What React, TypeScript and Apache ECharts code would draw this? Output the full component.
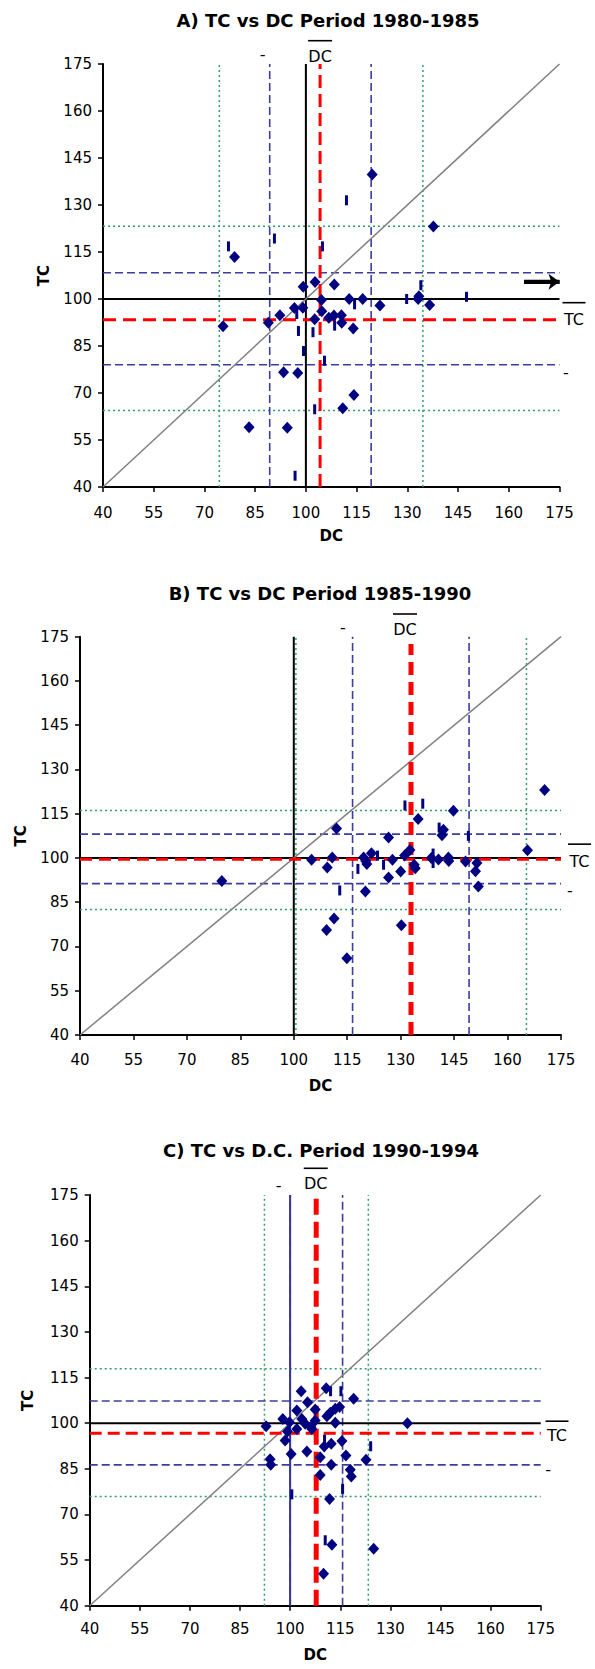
import React, { useEffect, useRef } from "react";
import * as echarts from "echarts";

// ---------- DATA ----------
const TITLES = [
  "A) TC vs DC Period 1980-1985",
  "B) TC vs DC Period 1985-1990",
  "C) TC vs D.C. Period 1990-1994",
];
const AXIS_MIN = 40;
const AXIS_MAX = 175;
const AXIS_STEP = 15;

// Panel A (1980-1985)
const A_DIAMONDS = [
  [137.7, 123.1], [119.6, 139.7], [78.9, 113.4], [99.2, 103.9], [102.7, 105.4], [108.4, 104.6],
  [104.6, 99.7], [112.8, 100], [116.8, 100], [121.9, 97.9], [133.4, 100.9], [133.2, 100],
  [136.6, 98.1], [96.6, 97.1], [99.1, 97.2], [92.3, 94.8], [88.9, 92.4], [75.5, 91.3],
  [104.7, 96.1], [102.6, 93.5], [106.8, 94.0], [108.3, 94.7], [110.5, 94.8], [110.6, 92.4],
  [114.0, 90.6], [93.4, 76.6], [97.6, 76.4], [114.2, 69.4], [110.9, 65.1], [83.2, 59.1], [94.5, 58.9],
];
const A_DASHES = [
  [77.1, 116.8], [90.7, 119.3], [104.9, 116.8], [112.0, 131.5], [134.0, 104.4], [129.8, 100],
  [147.5, 100.7], [114.4, 98.3], [97.3, 95.2], [97.8, 89.8], [102.1, 89.4], [108.5, 91.5],
  [99.3, 83.4], [105.5, 80.3], [102.6, 64.8], [96.8, 43.6],
];
const A_MEANS = [104.2, 93.4]; // DC mean, TC mean
const A_BLUE_X = [89.3, 119.3];
const A_BLUE_Y = [108.4, 79.0];
const A_GREEN_X = [74.4, 134.6];
const A_GREEN_Y = [123.2, 64.4];
const A_ARROW = [[164.5, 105.5], [175, 105.5]];

// Panel B (1985-1990)
const B_DIAMONDS = [
  [112.0, 110.0], [105.0, 99.4], [110.8, 100.2], [109.4, 96.8], [119.6, 100.2], [121.8, 101.6],
  [120.2, 99.0], [120.5, 98.0], [126.6, 106.9], [127.7, 99.4], [126.6, 93.4], [130.0, 95.4],
  [131.1, 100.8], [132.6, 102.7], [133.8, 97.7], [134.1, 96.5], [134.9, 113.2], [144.8, 116.0],
  [142.0, 109.6], [141.6, 107.7], [138.6, 100.0], [140.6, 99.5], [143.4, 100.2], [143.5, 99.0],
  [148.2, 98.8], [151.4, 98.3], [151.0, 95.5], [151.8, 90.3], [120.1, 88.6], [111.3, 79.5],
  [109.2, 75.6], [130.2, 77.2], [114.9, 66.0], [79.8, 92.2], [165.6, 102.6], [170.4, 123.0],
];
const B_DASHES = [
  [131.2, 117.8], [136.2, 118.4], [140.8, 110.3], [149.0, 107.5], [139.1, 101.5], [139.1, 98.3],
  [123.5, 100.8], [118.0, 96.3], [125.2, 97.7], [112.9, 89.0],
];
const B_MEANS = [132.9, 99.6];
const B_BLUE_X = [116.5, 149.2];
const B_BLUE_Y = [108.1, 91.3];
const B_GREEN_X = [100.6, 165.3];
const B_GREEN_Y = [116.1, 82.5];

// Panel C (1990-1994)
const C_DIAMONDS = [
  [103.3, 110.5], [110.8, 111.5], [119.0, 108.0], [105.2, 106.9], [107.5, 104.5], [102.0, 104.2],
  [97.8, 101.4], [92.8, 99.0], [99.8, 100.3], [103.5, 101.4], [104.5, 99.8], [106.2, 98.7],
  [107.5, 100.9], [106.5, 98.1], [102.0, 98.1], [99.2, 97.3], [98.5, 94.3], [112.0, 103.4],
  [113.5, 104.7], [114.8, 105.3], [111.0, 102.3], [113.5, 100.1], [110.2, 92.3], [112.3, 93.2],
  [115.5, 94.1], [105.0, 90.7], [100.3, 89.9], [109.0, 88.8], [116.7, 89.4], [122.7, 88.0],
  [94.0, 88.1], [94.2, 86.3], [112.3, 86.3], [118.0, 84.7], [118.3, 82.5], [109.0, 83.0],
  [135.1, 100.0], [111.8, 75.1], [112.5, 60.0], [125.0, 58.7], [110.0, 50.5],
];
const C_DASHES = [
  [112.1, 110.5], [115.2, 110.5], [124.1, 92.4], [110.3, 94.6], [100.5, 76.6], [115.7, 78.4], [110.5, 61.5],
];
const C_MEANS = [107.8, 96.7];
const C_BLUE_X = [100.0, 115.7];
const C_BLUE_Y = [107.3, 86.3];
const C_GREEN_X = [92.3, 123.4];
const C_GREEN_Y = [117.9, 75.9];

// ---------- LAYOUT / STYLE ----------
const FONT = '"DejaVu Sans", sans-serif';
const PANELS = [
  {
    grid: { left: 103, top: 64, width: 456.5, height: 423 },
    titleXY: [328, 20],
    diamonds: A_DIAMONDS, dashes: A_DASHES, means: A_MEANS,
    blueX: A_BLUE_X, blueY: A_BLUE_Y, greenX: A_GREEN_X, greenY: A_GREEN_Y,
    redV: { width: 3, type: [13, 6], top: AXIS_MAX }, redH: { width: 3, type: [13, 7] },
    refVColor: "#000000",
    labelMargin: 18, nameGapX: 41, nameGapY: 52,
    ann: { dcDx: 0, dcDy: -7.3, olDy: -23.3, mDx: -7, mDy: -10, tcDx: 14.5, tcDy: 0, tcOlDy: -17, rmDx: 6.5, rmDy: 7.4 },
  },
  {
    grid: { left: 80, top: 636.7, width: 481, height: 398.3 },
    titleXY: [320, 593],
    diamonds: B_DIAMONDS, dashes: B_DASHES, means: B_MEANS,
    blueX: B_BLUE_X, blueY: B_BLUE_Y, greenX: B_GREEN_X, greenY: B_GREEN_Y,
    redV: { width: 5, type: [13, 7], top: 172.5 }, redH: { width: 3, type: [12, 7] },
    refVColor: "#000000",
    labelMargin: 17, nameGapX: 43, nameGapY: 52,
    ann: { dcDx: -6, dcDy: -7.7, olDy: -22.7, mDx: -9.6, mDy: -9, tcDx: 18.5, tcDy: 2.7, tcOlDy: -15, rmDx: 9, rmDy: 6.7 },
  },
  {
    grid: { left: 89.7, top: 1195, width: 451, height: 410.7 },
    titleXY: [321, 1150],
    diamonds: C_DIAMONDS, dashes: C_DASHES, means: C_MEANS,
    blueX: C_BLUE_X, blueY: C_BLUE_Y, greenX: C_GREEN_X, greenY: C_GREEN_Y,
    redV: { width: 5, type: [16, 7], top: AXIS_MAX }, redH: { width: 3, type: [12, 6] },
    refVColor: "#333399",
    labelMargin: 16, nameGapX: 42, nameGapY: 54,
    ann: { dcDx: -0.5, dcDy: -11.7, olDy: -26.7, mDx: -11.6, mDy: -9.3, tcDx: 16.3, tcDy: 2, tcOlDy: -12, rmDx: 7.5, rmDy: 5 },
  },
];

const GREEN_STYLE = { color: "#2f9f66", width: 1.5, type: [2, 3] };
const BLUE_STYLE = { color: "#3c3ca0", width: 1.6, type: [8, 4] };
const MARK_COLOR = "#000080";

function buildSeries() {
  const series: any[] = [];
  PANELS.forEach((p, i) => {
    const base = { type: "line", xAxisIndex: i, yAxisIndex: i, symbol: "none", silent: true, animation: false };
    const v = (x: number, ls: any, z: number, top = AXIS_MAX) => ({ ...base, z, data: [[x, AXIS_MIN], [x, top]], lineStyle: ls });
    const h = (y: number, ls: any, z: number) => ({ ...base, z, data: [[AXIS_MIN, y], [AXIS_MAX, y]], lineStyle: ls });
    p.greenX.forEach((x) => series.push(v(x, GREEN_STYLE, 1)));
    p.greenY.forEach((y) => series.push(h(y, GREEN_STYLE, 1)));
    p.blueX.forEach((x) => series.push(v(x, BLUE_STYLE, 2)));
    p.blueY.forEach((y) => series.push(h(y, BLUE_STYLE, 2)));
    series.push(v(100, { color: p.refVColor, width: 2 }, 3));
    series.push(h(100, { color: "#000000", width: 2 }, 3));
    series.push({ ...base, z: 3, data: [[AXIS_MIN, AXIS_MIN], [AXIS_MAX, AXIS_MAX]], lineStyle: { color: "#808080", width: 1.5 } });
    series.push(v(p.means[0], { color: "#ff0000", width: p.redV.width, type: p.redV.type }, 4, p.redV.top));
    series.push(h(p.means[1], { color: "#ff0000", width: p.redH.width, type: p.redH.type }, 4));
    series.push({
      type: "scatter", xAxisIndex: i, yAxisIndex: i, z: 6, symbol: "rect", symbolSize: [3, 10],
      itemStyle: { color: MARK_COLOR, opacity: 1 }, data: p.dashes, silent: true,
    });
    series.push({
      type: "scatter", xAxisIndex: i, yAxisIndex: i, z: 7, symbol: "diamond", symbolSize: [11, 12],
      itemStyle: { color: MARK_COLOR, opacity: 1 }, data: p.diamonds, silent: true,
    });
  });
  // Arrow in panel A, drawn as a two-point line with an arrow symbol at its end
  series.push({
    type: "line", xAxisIndex: 0, yAxisIndex: 0, z: 8, silent: true, clip: false,
    data: A_ARROW,
    symbol: ["none", "arrow"],
    showAllSymbol: true,
    symbolSize: 0,
    lineStyle: { color: "#000000", width: 4 },
    markLine: {
      silent: true, symbol: ["none", "arrow"], symbolSize: [12, 11],
      label: { show: false },
      lineStyle: { color: "#000000", width: 4, type: "solid", opacity: 1 },
      data: [[{ coord: A_ARROW[0] }, { coord: A_ARROW[1] }]],
    },
  });
  return series;
}

function axisCommon(i: number) {
  return {
    type: "value", gridIndex: i, min: AXIS_MIN, max: AXIS_MAX, interval: AXIS_STEP,
    axisLine: { show: true, onZero: false, lineStyle: { color: "#000", width: 2 } },
    axisTick: { show: true, inside: false, length: 5, lineStyle: { color: "#000", width: 1.5 } },
    splitLine: { show: false },
    nameLocation: "middle",
    nameTextStyle: { fontFamily: FONT, fontSize: 15, fontWeight: "bold", color: "#000" },
  };
}

export default function App() {
  const ref = useRef<HTMLDivElement>(null);
  useEffect(() => {
    document.body.style.margin = "0";
    const chart = echarts.init(ref.current!, undefined, { renderer: "svg" });
    const option: any = {
      animation: false,
      backgroundColor: "#ffffff",
      grid: PANELS.map((p) => ({ ...p.grid, containLabel: false })),
      xAxis: PANELS.map((p, i) => ({
        ...axisCommon(i), name: "DC", nameGap: p.nameGapX,
        axisLabel: { fontFamily: FONT, fontSize: 15, color: "#000", margin: p.labelMargin },
      })),
      yAxis: PANELS.map((p, i) => ({
        ...axisCommon(i), name: "TC", nameGap: p.nameGapY, nameRotate: 90,
        axisLabel: { fontFamily: FONT, fontSize: 15, color: "#000", margin: 11 },
      })),
      series: buildSeries(),
    };
    chart.setOption(option);

    const graphic: any[] = [];
    const txt = (text: string, x: number, y: number, font: string) => ({
      type: "text", x, y, silent: true,
      style: { text, font, fill: "#000", align: "center", verticalAlign: "middle" },
    });
    const ln = (x1: number, x2: number, y: number) => ({
      type: "line", silent: true, shape: { x1, y1: y, x2, y2: y }, style: { stroke: "#000", lineWidth: 1.6 },
    });
    PANELS.forEach((p, i) => {
      graphic.push(txt(TITLES[i], p.titleXY[0], p.titleXY[1], `bold 18px ${FONT}`));
      const a = p.ann;
      const top = p.grid.top;
      const right = p.grid.left + p.grid.width;
      const redX = chart.convertToPixel({ gridIndex: i }, [p.means[0], 100])[0];
      const redY = chart.convertToPixel({ gridIndex: i }, [100, p.means[1]])[1];
      const blueLeftX = chart.convertToPixel({ gridIndex: i }, [Math.min(...p.blueX), 100])[0];
      const blueLowY = chart.convertToPixel({ gridIndex: i }, [100, Math.min(...p.blueY)])[1];
      const dcX = redX + a.dcDx;
      graphic.push(txt("DC", dcX, top + a.dcDy, `16px ${FONT}`));
      graphic.push(ln(dcX - 12, dcX + 12, top + a.olDy));
      graphic.push(txt("-", blueLeftX + a.mDx, top + a.mDy, `16px ${FONT}`));
      const tcX = right + a.tcDx;
      graphic.push(txt("TC", tcX, redY + a.tcDy, `16px ${FONT}`));
      graphic.push(ln(tcX - 11.5, tcX + 11.5, redY + a.tcOlDy));
      graphic.push(txt("-", right + a.rmDx, blueLowY + a.rmDy, `16px ${FONT}`));
    });
    chart.setOption({ graphic });

    return () => chart.dispose();
  }, []);
  return <div ref={ref} style={{ width: 595, height: 1669 }} />;
}
